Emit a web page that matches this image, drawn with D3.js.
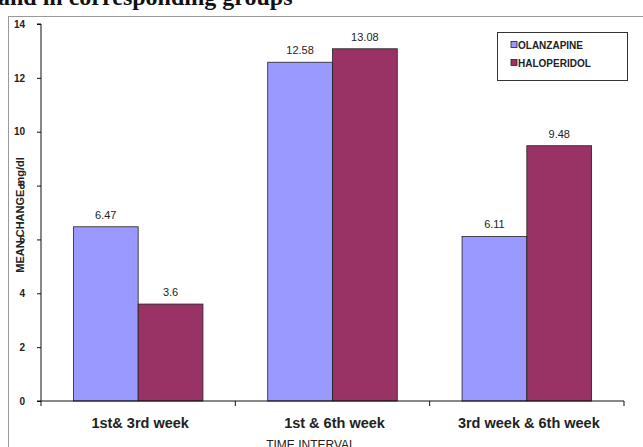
<!DOCTYPE html>
<html>
<head>
<meta charset="utf-8">
<script src="https://cdn.jsdelivr.net/npm/d3@7"></script>
<style>
  html, body { margin: 0; padding: 0; background: #fff; }
  svg { display: block; }
</style>
</head>
<body>
<svg id="chart" width="643" height="447"></svg>
<script>
// Mean change (mg/dl) per time interval, by drug group
const categories = ["1st& 3rd week", "1st & 6th week", "3rd week & 6th week"];
const seriesNames = ["OLANZAPINE", "HALOPERIDOL"];
const olanzapine = [6.47, 12.58, 6.11];
const haloperidol = [3.6, 13.08, 9.48];
const valueLabels = [["6.47", "12.58", "6.11"], ["3.6", "13.08", "9.48"]];
const yTicks = [0, 2, 4, 6, 8, 10, 12, 14];
const colors = ["#9999ff", "#993366"];

const svg = d3.select("#chart");

// Heading line above the chart frame (runs off the top edge)
svg.append("text")
  .attr("x", -2).attr("y", 5)
  .attr("font-family", "Liberation Serif, Times New Roman, serif")
  .attr("font-weight", "bold").attr("font-size", 24)
  .attr("fill", "#111")
  .text("and in corresponding groups");

// Chart frame
svg.append("rect")
  .attr("x", 8.5).attr("y", 16.5).attr("width", 660).attr("height", 460)
  .attr("fill", "#fff").attr("stroke", "#9a9a9a").attr("stroke-width", 1);

const plot = { left: 41, right: 624, top: 24, bottom: 401 };

const x = d3.scaleBand().domain(categories).range([plot.left, plot.right]).padding(0);
const y = d3.scaleLinear().domain([0, 14]).range([plot.bottom, plot.top]);

const data = categories.map((c, i) => ({ cat: c, vals: [olanzapine[i], haloperidol[i]] }));

const barW = x.bandwidth() / 3;
const groups = svg.append("g").selectAll("g").data(data).join("g")
  .attr("transform", d => `translate(${x(d.cat) + x.bandwidth() / 2 - barW},0)`);

groups.selectAll("rect").data(d => d.vals).join("rect")
  .attr("x", (v, j) => j * barW)
  .attr("y", v => y(v))
  .attr("width", barW)
  .attr("height", v => y(0) - y(v))
  .attr("fill", (v, j) => colors[j])
  .attr("stroke", "#222").attr("stroke-width", 0.8);

groups.selectAll("text.val").data((d, i) => d.vals.map((v, j) => ({ v, label: valueLabels[j][i] })))
  .join("text").attr("class", "val")
  .attr("x", (d, j) => j * barW + barW / 2)
  .attr("y", d => y(d.v) - 8)
  .attr("text-anchor", "middle")
  .attr("font-family", "Liberation Sans, Arial, sans-serif")
  .attr("font-size", 11).attr("fill", "#222")
  .text(d => d.label);

// Y axis title (drawn first so the tick numbers sit on top of it)
svg.append("text")
  .attr("transform", "translate(24,215) rotate(-90)")
  .attr("text-anchor", "middle")
  .attr("font-family", "Liberation Sans, Arial, sans-serif")
  .attr("font-weight", "bold").attr("font-size", 11).attr("fill", "#222")
  .text("MEAN CHANGE mg/dl");

// Y axis
const yAxis = d3.axisLeft(y).tickValues(yTicks).tickSize(4).tickPadding(12).tickFormat(d3.format("d"));
const gy = svg.append("g").attr("transform", `translate(${plot.left},0)`).call(yAxis);
gy.select(".domain").attr("stroke", "#111").attr("d", `M-4,${plot.top}H0V${plot.bottom}`);
gy.selectAll(".tick line").attr("stroke", "#111");
gy.selectAll(".tick text")
  .attr("font-family", "Liberation Sans, Arial, sans-serif")
  .attr("font-weight", "bold").attr("font-size", 10).attr("fill", "#222");

// X axis
const xEdges = [plot.left, ...categories.map(c => x(c) + x.bandwidth())];
const gx = svg.append("g").attr("transform", `translate(0,${plot.bottom})`);
gx.append("line").attr("x1", plot.left - 4).attr("x2", plot.right).attr("stroke", "#111");
gx.selectAll("line.tk").data(xEdges).join("line").attr("class", "tk")
  .attr("x1", d => d).attr("x2", d => d).attr("y1", 0).attr("y2", 5).attr("stroke", "#111");
gx.selectAll("text").data(categories).join("text")
  .attr("x", d => x(d) + x.bandwidth() / 2 + 2)
  .attr("y", 27)
  .attr("text-anchor", "middle")
  .attr("font-family", "Liberation Sans, Arial, sans-serif")
  .attr("font-weight", "bold").attr("font-size", 14.5).attr("fill", "#222")
  .text(d => d);

// X axis title
svg.append("text")
  .attr("x", 311).attr("y", 449)
  .attr("text-anchor", "middle")
  .attr("font-family", "Liberation Sans, Arial, sans-serif")
  .attr("font-size", 12).attr("fill", "#222")
  .text("TIME  INTERVAL");

// Legend
const legend = svg.append("g").attr("transform", "translate(497,32)");
legend.append("rect").attr("x", 0.5).attr("y", 0.5).attr("width", 130).attr("height", 48)
  .attr("fill", "#fff").attr("stroke", "#333").attr("stroke-width", 1);
const items = legend.selectAll("g").data(seriesNames).join("g")
  .attr("transform", (d, i) => `translate(14,${13 + i * 18})`);
items.append("rect").attr("x", 0).attr("y", -3.5).attr("width", 6).attr("height", 6)
  .attr("fill", (d, i) => colors[i]).attr("stroke", "#222").attr("stroke-width", 0.8);
items.append("text").attr("x", 7).attr("y", 4)
  .attr("font-family", "Liberation Sans, Arial, sans-serif")
  .attr("font-weight", "bold").attr("font-size", 10).attr("fill", "#222")
  .text(d => d);
</script>
</body>
</html>
